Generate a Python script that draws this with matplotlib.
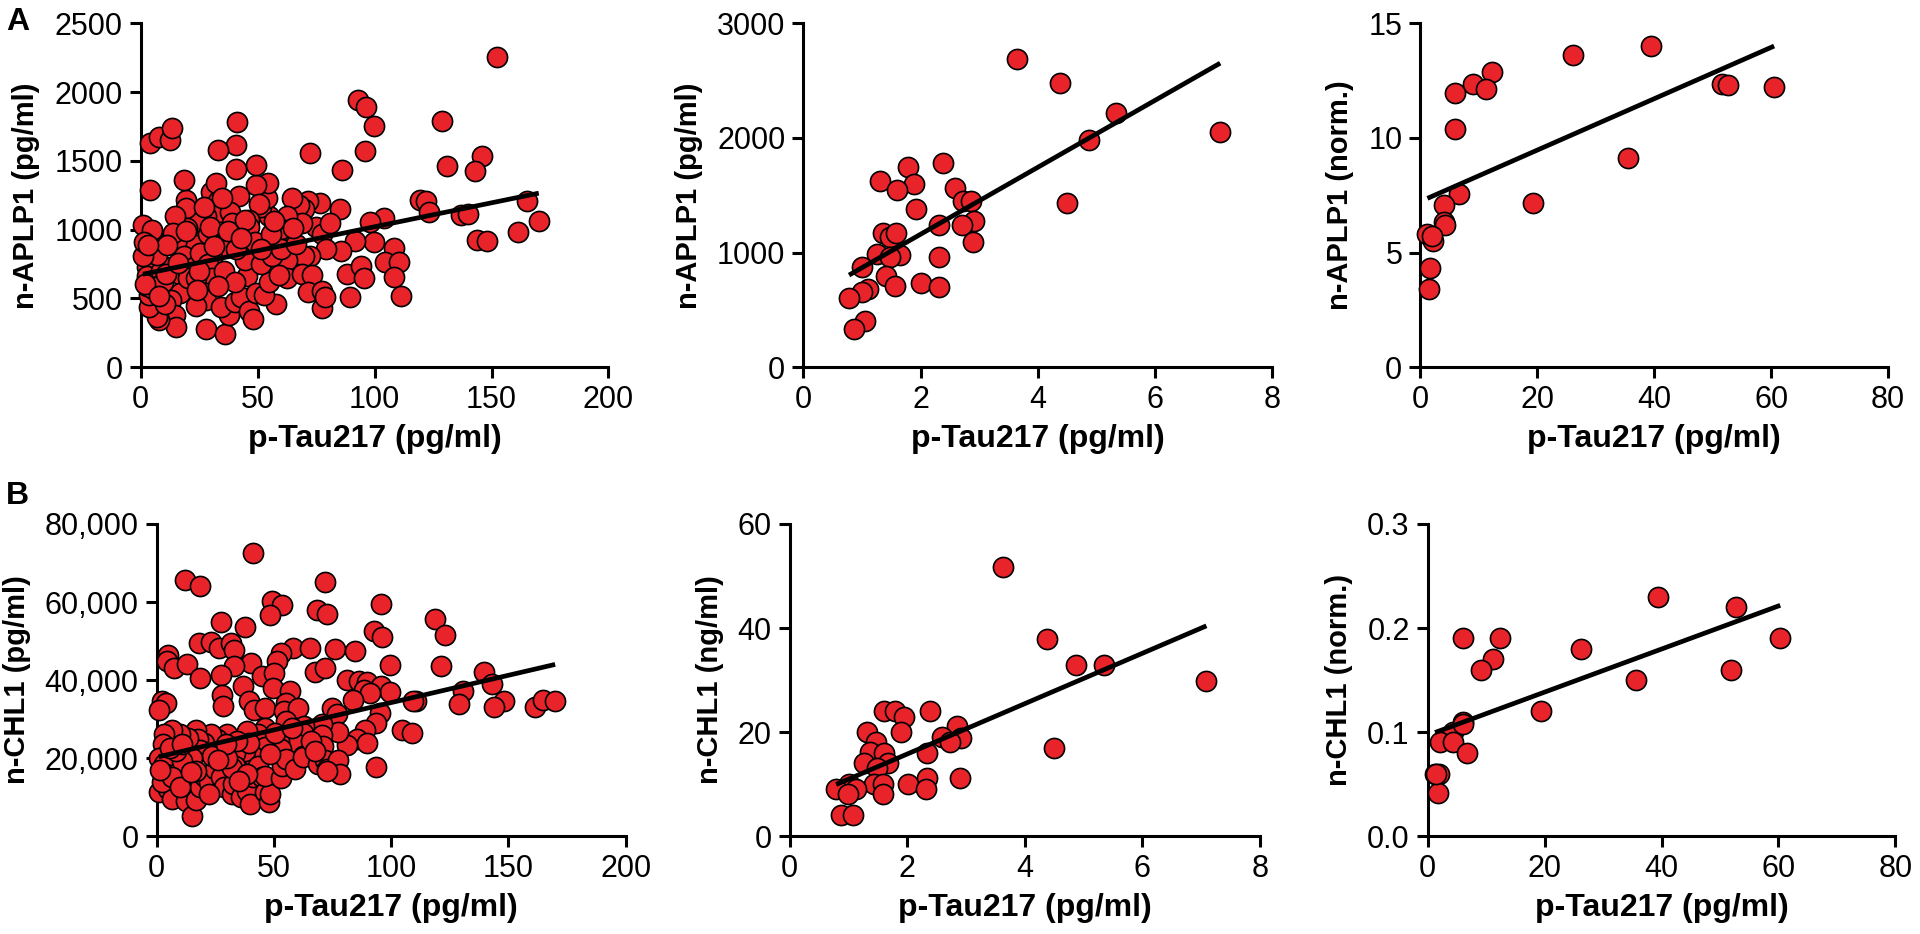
import matplotlib
matplotlib.use('Agg')
import matplotlib.pyplot as plt
import numpy as np
from matplotlib.ticker import FuncFormatter

plt.rcParams['font.family'] = ['Liberation Sans', 'DejaVu Sans']

# ---- data ----
# A, left: whole cohort, n-APLP1 (pg/ml) vs p-Tau217 (pg/ml)
aplp1_all = [
    (152.4, 2255), (92.9, 1941), (96.2, 1888), (99.7, 1755), (95.8, 1572), (128.9, 1790),
    (131.0, 1463), (145.8, 1532), (142.9, 1426), (119.3, 1218), (121.9, 1210), (123.1, 1125),
    (136.8, 1104), (139.9, 1112), (165.2, 1210), (170.2, 1066), (161.5, 984), (143.7, 926),
    (148.1, 918), (104.2, 1085), (98.1, 1059), (99.8, 912), (108.5, 864), (104.5, 766),
    (110.3, 766), (108.5, 654), (111.5, 521), (89.4, 513), (88.0, 678), (94.1, 739),
    (95.3, 652), (91.6, 918), (85.7, 846), (85.0, 1152), (85.9, 1431), (72.3, 1556),
    (76.6, 1191), (71.5, 1210), (69.7, 1152), (67.6, 1178), (64.8, 1231), (74.9, 1019),
    (68.8, 1045), (77.5, 965), (81.0, 1045), (79.2, 859), (72.3, 806), (69.7, 806),
    (62.4, 779), (62.7, 646), (68.8, 678), (73.2, 673), (71.5, 548), (77.5, 553),
    (77.4, 434), (78.6, 508), (58.0, 460), (54.9, 886), (58.4, 912), (62.7, 1098),
    (54.9, 1098), (51.4, 1165), (54.0, 1231), (54.5, 1338), (49.1, 1324), (49.3, 1471),
    (50.5, 1184), (46.5, 1072), (46.5, 1019), (42.2, 1245), (40.6, 1444), (40.6, 1617),
    (41.0, 1782), (33.1, 1582), (30.0, 1271), (33.1, 1205), (34.5, 1125), (38.3, 1130),
    (38.9, 1045), (33.1, 926), (36.2, 872), (30.5, 793), (27.9, 1098), (23.5, 1051),
    (19.2, 1218), (18.3, 1364), (19.2, 1157), (19.7, 1013), (14.8, 1098), (15.3, 912),
    (10.5, 899), (13.9, 979), (21.8, 832), (23.5, 886), (4.0, 1630), (7.8, 1670),
    (12.7, 1649), (13.4, 1737), (4.0, 1290), (0.9, 1037), (4.7, 997), (4.0, 832),
    (6.1, 779), (2.6, 726), (2.6, 660), (8.7, 700), (13.1, 726), (17.4, 673),
    (18.3, 806), (22.6, 726), (25.3, 832), (28.7, 965), (28.7, 753), (30.5, 646),
    (27.8, 540), (27.8, 487), (21.8, 593), (16.6, 540), (13.1, 487), (14.8, 380),
    (15.1, 295), (7.8, 340), (7.0, 367), (3.5, 439), (3.5, 527), (2.6, 593),
    (5.2, 566), (10.5, 460), (27.9, 279), (36.2, 242), (37.9, 380), (34.3, 441),
    (40.3, 473), (42.7, 513), (46.3, 412), (47.9, 354), (45.3, 660), (49.3, 540),
    (52.8, 527), (54.9, 620), (44.4, 779), (51.4, 753), (56.3, 806), (59.2, 673),
    (40.9, 859), (35.7, 700), (40.1, 620), (33.1, 593), (23.5, 447), (20.0, 646),
    (9.6, 620), (7.0, 819), (11.3, 886), (32.2, 1338), (34.8, 1231), (27.0, 1165),
    (29.6, 1019), (44.4, 1072), (48.8, 912), (60.1, 1005), (60.1, 859), (66.2, 899),
    (55.7, 965), (51.4, 859), (37.5, 992), (19.2, 992), (23.5, 646), (0.9, 806),
    (1.2, 912), (3.0, 886), (1.7, 606), (8.0, 520), (11.0, 680), (16.0, 760),
    (25.0, 700), (31.5, 880), (43.0, 940), (57.0, 1060), (65.0, 1010), (24.0, 560),
]
ptau_a1 = [p[0] for p in aplp1_all]
aplp1_a1 = [p[1] for p in aplp1_all]

# A, middle: n-APLP1 (pg/ml) vs p-Tau217 (pg/ml), subset
ptau_a2 = [3.64, 4.38, 5.33, 7.11, 4.88, 4.49, 2.38, 1.78, 1.30, 1.88, 1.60, 2.58,
           1.93, 2.72, 2.86, 2.91, 2.70, 2.32, 1.36, 1.48, 1.58, 2.89, 1.25, 1.65,
           1.48, 1.00, 2.32, 1.41, 2.01, 1.57, 2.32, 1.11, 1.00, 0.78, 1.05, 0.86]
aplp1_a2 = [2690, 2483, 2218, 2052, 1979, 1430, 1781, 1749, 1628, 1596, 1542, 1564,
            1382, 1446, 1446, 1277, 1238, 1238, 1168, 1133, 1168, 1095, 990, 977,
            958, 878, 961, 798, 734, 705, 696, 686, 654, 606, 402, 335]

# A, right: n-APLP1 (norm.) vs p-Tau217 (pg/ml)
ptau_a3 = [39.4, 26.1, 12.2, 9.0, 11.2, 5.9, 51.5, 52.6, 60.5, 5.9, 35.5,
           6.6, 19.3, 4.0, 4.0, 4.2, 1.2, 2.1, 2.0, 1.7, 1.5]
aplp1_a3 = [14.01, 13.61, 12.89, 12.33, 12.13, 11.98, 12.33, 12.30, 12.22, 10.39, 9.14,
            7.55, 7.15, 7.07, 6.35, 6.22, 5.82, 5.50, 5.71, 4.31, 3.43]

# B, left: whole cohort, n-CHL1 (pg/ml) vs p-Tau217 (pg/ml)
chl1_all = [
    (40.9, 72527), (12.0, 65563), (18.6, 64119), (71.7, 65138), (49.0, 60297), (53.4, 59193),
    (95.7, 59448), (68.2, 57919), (72.5, 56900), (48.5, 56645), (118.6, 55541), (27.3, 54777),
    (37.7, 53673), (123.0, 51550), (92.5, 52654), (96.0, 50955), (18.1, 49427), (23.0, 49851),
    (26.4, 48153), (31.7, 49427), (33.0, 47729), (58.3, 48323), (65.2, 48323), (76.0, 47983),
    (84.7, 47473), (52.9, 46879), (51.5, 44756), (4.7, 46454), (4.3, 44756), (7.3, 43057),
    (12.9, 44076), (40.3, 44331), (44.7, 40934), (33.0, 43482), (121.2, 43652), (99.5, 43907),
    (18.6, 40510), (27.3, 41359), (67.3, 42038), (71.7, 43057), (50.2, 41783), (36.9, 38556),
    (81.2, 39915), (86.4, 39660), (89.6, 39405), (95.7, 38556), (99.5, 36943), (88.2, 37537),
    (90.8, 36688), (49.6, 37962), (56.9, 37113), (27.7, 36264), (28.2, 33291), (2.1, 34565),
    (3.8, 34140), (0.9, 32442), (39.5, 34735), (41.6, 32442), (46.1, 32866), (55.1, 34140),
    (54.3, 32017), (60.3, 32866), (83.8, 34989), (74.8, 32866), (76.9, 31338), (139.5, 41953),
    (143.0, 38981), (130.8, 37283), (129.0, 33885), (110.4, 34735), (109.5, 34565), (148.2, 34735),
    (143.8, 33121), (161.2, 33121), (164.7, 34989), (169.9, 34565), (95.1, 31592), (93.4, 29045),
    (88.7, 27091), (104.7, 27091), (108.7, 26497), (85.6, 24968), (89.6, 23949), (81.2, 23355),
    (77.4, 26752), (70.4, 28790), (70.4, 25903), (70.8, 23100), (63.0, 28195), (62.3, 26497),
    (59.0, 23949), (62.4, 20552), (52.2, 24374), (53.0, 22251), (55.1, 29469), (46.4, 27771),
    (43.0, 26072), (38.6, 26922), (46.4, 22845), (41.2, 20552), (37.7, 21826), (33.4, 21401),
    (29.9, 26072), (25.6, 24968), (28.2, 22675), (23.0, 26072), (20.3, 23949), (16.9, 27091),
    (17.7, 24798), (18.6, 21996), (13.4, 25223), (9.9, 26072), (6.4, 27091), (3.0, 26072),
    (2.6, 23694), (3.8, 20807), (0.9, 20127), (3.0, 18429), (3.8, 15881), (1.2, 11210),
    (4.7, 12059), (6.4, 9511), (2.1, 13758), (8.2, 15881), (11.7, 18004), (13.7, 14607),
    (12.5, 11635), (12.5, 9087), (15.1, 5265), (16.9, 9257), (18.6, 12484), (20.3, 15456),
    (22.4, 13758), (24.7, 17155), (27.3, 15032), (28.7, 12484), (32.2, 10786), (32.5, 13333),
    (33.4, 18004), (36.0, 9936), (38.6, 11635), (40.0, 8238), (41.2, 15032), (43.0, 18004),
    (44.7, 15032), (46.1, 11210), (47.8, 8662), (48.5, 10786), (46.4, 15456), (53.0, 14862),
    (53.4, 18004), (55.1, 19703), (59.0, 17155), (62.3, 20297), (69.0, 18599), (71.7, 19448),
    (72.5, 17155), (77.4, 19448), (78.3, 15881), (72.5, 16730), (93.4, 17749), (32.2, 17579),
    (29.9, 20127), (23.8, 20552), (15.1, 20127), (10.8, 19278), (8.2, 21826), (48.2, 20977),
    (39.5, 23949), (34.3, 24374), (29.6, 23525), (65.6, 24374), (67.3, 21826), (50.4, 26497),
    (57.8, 27771), (16.9, 16730), (6.4, 15032), (9.9, 12484), (22.1, 10786), (38.6, 15881),
    (35.1, 14183), (1.5, 17000), (5.5, 22500), (11.0, 23500), (14.5, 16500), (26.0, 19500),
]
ptau_b1 = [p[0] for p in chl1_all]
chl1_b1 = [p[1] for p in chl1_all]

# B, middle: n-CHL1 (ng/ml) vs p-Tau217 (pg/ml), subset
ptau_b2 = [3.63, 4.38, 4.87, 5.34, 7.09, 4.50, 2.39, 1.61, 1.80, 1.95, 1.31, 1.89,
           2.85, 2.92, 2.59, 2.73, 1.47, 2.33, 1.37, 1.60, 1.27, 1.68, 1.49, 2.33,
           2.90, 1.43, 1.59, 2.01, 1.01, 0.79, 1.13, 2.32, 1.00, 1.59, 0.87, 1.07]
chl1_b2 = [51.8, 37.9, 32.9, 32.9, 29.9, 17.0, 24.0, 24.0, 24.0, 22.9, 20.1, 20.0,
           21.1, 18.9, 19.0, 18.0, 18.1, 15.9, 16.1, 15.9, 14.0, 14.0, 13.0, 11.1,
           11.1, 10.1, 10.0, 10.0, 10.1, 9.0, 9.0, 9.0, 8.1, 8.1, 4.1, 4.1]

# B, right: n-CHL1 (norm.) vs p-Tau217 (pg/ml)
ptau_b3 = [39.4, 52.7, 6.0, 12.3, 60.3, 26.2, 11.1, 9.1, 51.8, 35.6, 19.4,
           6.1, 4.4, 2.1, 4.4, 6.7, 1.95, 1.25, 1.7, 6.0, 1.5]
chl1_b3 = [0.230, 0.220, 0.190, 0.190, 0.190, 0.180, 0.170, 0.160, 0.160, 0.150, 0.120,
           0.110, 0.100, 0.090, 0.090, 0.080, 0.060, 0.060, 0.041, 0.108, 0.060]

# regression lines (intercept, slope)
fits = {
    'a1': (673, 3.48), 'a2': (576, 292), 'a3': (7.23, 0.112),
    'b1': (20220, 140), 'b2': (6.1, 4.84), 'b3': (0.097, 0.00207),
}

RED = '#e8242a'
XLAB = 'p-Tau217 (pg/ml)'


def panel(ax, x, y, fit, xmax, xstep, ymax, ystep, ylabel, yfmt=None):
    ax.scatter(x, y, s=210, c=RED, edgecolors='black', linewidths=1.2,
               zorder=3, clip_on=False)
    xs = np.array([min(x), max(x)])
    ax.plot(xs, fit[0] + fit[1] * xs, color='black', lw=3.4, zorder=4,
            solid_capstyle='butt')
    ax.set_xlim(0, xmax)
    ax.set_ylim(0, ymax)
    ax.set_xticks(np.arange(0, xmax + xstep / 2, xstep))
    ax.set_yticks(np.arange(0, ymax + ystep / 2, ystep))
    if yfmt is not None:
        ax.yaxis.set_major_formatter(FuncFormatter(yfmt))
    for s in ['top', 'right']:
        ax.spines[s].set_visible(False)
    for s in ['left', 'bottom']:
        ax.spines[s].set_linewidth(2.2)
    ax.tick_params(width=2.2, length=8, labelsize=22, pad=5)
    ax.set_xlabel(XLAB, fontsize=23, fontweight='bold', labelpad=6)
    ax.set_ylabel(ylabel, fontsize=21, fontweight='bold', labelpad=10)


fig = plt.figure(figsize=(19.2, 9.34), dpi=100)

ax1 = fig.add_axes([0.0733, 0.6068, 0.2436, 0.3683])
ax2 = fig.add_axes([0.4184, 0.6068, 0.2443, 0.3683])
ax3 = fig.add_axes([0.7398, 0.6068, 0.2436, 0.3683])
ax4 = fig.add_axes([0.0816, 0.1048, 0.2443, 0.3342])
ax5 = fig.add_axes([0.4113, 0.1048, 0.2449, 0.3342])
ax6 = fig.add_axes([0.7436, 0.1048, 0.2436, 0.3342])

panel(ax1, ptau_a1, aplp1_a1, fits['a1'], 200, 50, 2500, 500, 'n-APLP1 (pg/ml)')
panel(ax2, ptau_a2, aplp1_a2, fits['a2'], 8, 2, 3000, 1000, 'n-APLP1 (pg/ml)')
panel(ax3, ptau_a3, aplp1_a3, fits['a3'], 80, 20, 15, 5, 'n-APLP1 (norm.)')
panel(ax4, ptau_b1, chl1_b1, fits['b1'], 200, 50, 80000, 20000, 'n-CHL1 (pg/ml)',
      lambda v, p: f'{int(v):,}')
panel(ax5, ptau_b2, chl1_b2, fits['b2'], 8, 2, 60, 20, 'n-CHL1 (ng/ml)')
panel(ax6, ptau_b3, chl1_b3, fits['b3'], 80, 20, 0.3, 0.1, 'n-CHL1 (norm.)',
      lambda v, p: f'{v:.1f}')

fig.text(0.003, 0.976, 'A', fontsize=23, fontweight='bold', va='center')
fig.text(0.003, 0.469, 'B', fontsize=23, fontweight='bold', va='center')

fig.savefig('out.png', dpi=100)
